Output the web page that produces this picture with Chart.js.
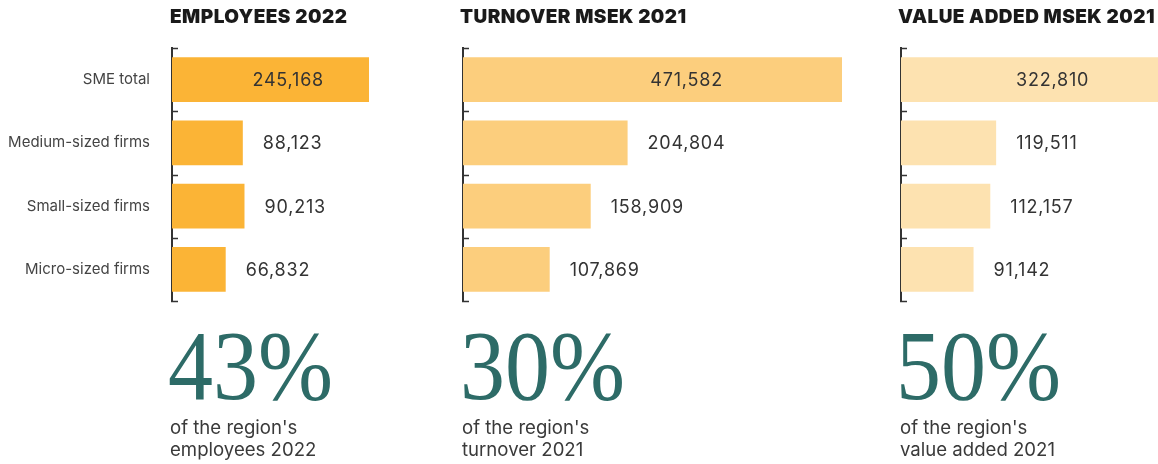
<!DOCTYPE html>
<html>
<head>
<meta charset="utf-8">
<script src="https://cdn.jsdelivr.net/npm/chart.js@4/dist/chart.umd.min.js"></script>
<style>
  html, body { margin: 0; padding: 0; background: #fff; overflow: hidden; }
  #stage { position: relative; width: 1158px; height: 464px; }
  .panel { position: absolute; top: 0; height: 320px; }
  .title { position: absolute; top: 7px; font-family: Inter, "Liberation Sans", sans-serif; font-weight: 900;
           font-size: 19px; line-height: 20px; color: #1a1a1a; white-space: nowrap; letter-spacing: 0.45px; }
  .big { position: absolute; top: 316px; font-family: "Liberation Serif", serif; font-size: 100px; line-height: 100px;
         color: #2d6b67; white-space: nowrap; transform: scaleX(0.9); transform-origin: left top; }
  .cap { position: absolute; top: 416px; font-family: Inter, "Liberation Sans", sans-serif; font-size: 18.6px;
         line-height: 22px; color: #3a3a3a; white-space: nowrap; }
</style>
</head>
<body>
<div id="stage">
  <div class="panel" style="left:0;width:380px"><canvas id="c0"></canvas></div>
  <div class="panel" style="left:440px;width:420px"><canvas id="c1"></canvas></div>
  <div class="panel" style="left:880px;width:278px"><canvas id="c2"></canvas></div>
</div>
<script>
// ---- data ----
const categories = ['SME total', 'Medium-sized firms', 'Small-sized firms', 'Micro-sized firms'];
const employees2022 = [245168, 88123, 90213, 66832];
const turnover2021 = [471582, 204804, 158909, 107869];
const valueAdded2021 = [322810, 119511, 112157, 91142];
const panelTitles = ['EMPLOYEES 2022', 'TURNOVER MSEK 2021', 'VALUE ADDED MSEK 2021'];
const regionShares = ['43%', '30%', '50%'];
const captionLine1 = ["of the region's", "of the region's", "of the region's"];
const captionLine2 = ['employees 2022', 'turnover 2021', 'value added 2021'];

// ---- layout / style ----
const panels = [
  { id: 'c0', values: employees2022, color: '#fbb436', axisWidth: 172, padRight: 11, showLabels: true, titleX: 170, bigX: 168, capX: 170 },
  { id: 'c1', values: turnover2021, color: '#fcce7d', axisWidth: 23, padRight: 18, showLabels: false, titleX: 460, bigX: 460, capX: 462 },
  { id: 'c2', values: valueAdded2021, color: '#fde2b0', axisWidth: 21, padRight: 0, showLabels: false, titleX: 898, bigX: 896, capX: 900 }
];

const stage = document.getElementById('stage');
panels.forEach((p, i) => {
  const t = document.createElement('div'); t.className = 'title'; t.style.left = p.titleX + 'px'; t.textContent = panelTitles[i]; stage.appendChild(t);
  const b = document.createElement('div'); b.className = 'big'; b.style.left = p.bigX + 'px'; b.textContent = regionShares[i]; stage.appendChild(b);
  const c = document.createElement('div'); c.className = 'cap'; c.style.left = p.capX + 'px';
  c.appendChild(document.createTextNode(captionLine1[i])); c.appendChild(document.createElement('br'));
  c.appendChild(document.createTextNode(captionLine2[i])); stage.appendChild(c);
});

const valueLabels = {
  id: 'valueLabels',
  afterDatasetsDraw(chart) {
    const ctx = chart.ctx;
    const meta = chart.getDatasetMeta(0);
    const data = chart.data.datasets[0].data;
    const max = Math.max(...data);
    ctx.save();
    ctx.font = '18px Inter, "Liberation Sans", sans-serif';
    ctx.fillStyle = '#333';
    ctx.textBaseline = 'middle';
    try { ctx.letterSpacing = '0.8px'; } catch (e) {}
    meta.data.forEach((bar, i) => {
      const v = data[i];
      const txt = v.toLocaleString('en-US');
      if (v === max) {
        ctx.textAlign = 'center';
        ctx.fillText(txt, bar.base + (bar.x - bar.base) * 0.59, bar.y + 1);
      } else {
        ctx.textAlign = 'left';
        ctx.fillText(txt, bar.x + 20, bar.y + 1);
      }
    });
    ctx.restore();
  },
  afterDraw(chart) {
    const ctx = chart.ctx;
    const area = chart.chartArea;
    const n = chart.data.labels.length;
    ctx.save();
    ctx.strokeStyle = '#333';
    ctx.lineWidth = 1.5;
    for (let k = 0; k <= n; k++) {
      const y = Math.round(area.top + k * (area.bottom - area.top) / n) + 0.5;
      ctx.beginPath();
      ctx.moveTo(area.left - 1, y);
      ctx.lineTo(area.left + 6, y);
      ctx.stroke();
    }
    ctx.restore();
  }
};

panels.forEach(p => {
  new Chart(document.getElementById(p.id), {
    type: 'bar',
    data: {
      labels: categories,
      datasets: [{ data: p.values, backgroundColor: p.color, borderWidth: 0, barPercentage: 0.71, categoryPercentage: 1 }]
    },
    options: {
      indexAxis: 'y',
      responsive: true,
      maintainAspectRatio: false,
      animation: false,
      layout: { padding: { top: 48, bottom: 19, left: 0, right: p.padRight } },
      plugins: { legend: { display: false }, tooltip: { enabled: false } },
      scales: {
        x: { display: false, min: 0, max: Math.max(...p.values) },
        y: {
          afterFit: (s) => { s.width = p.axisWidth; },
          border: { display: true, color: '#333', width: 2 },
          grid: { display: true, drawOnChartArea: false, drawTicks: true, tickLength: 22, tickColor: 'rgba(0,0,0,0)' },
          ticks: {
            display: p.showLabels, padding: 0, color: '#444',
            font: { family: 'Inter, "Liberation Sans", sans-serif', size: 15 }
          }
        }
      }
    },
    plugins: [valueLabels]
  });
});
</script>
</body>
</html>
